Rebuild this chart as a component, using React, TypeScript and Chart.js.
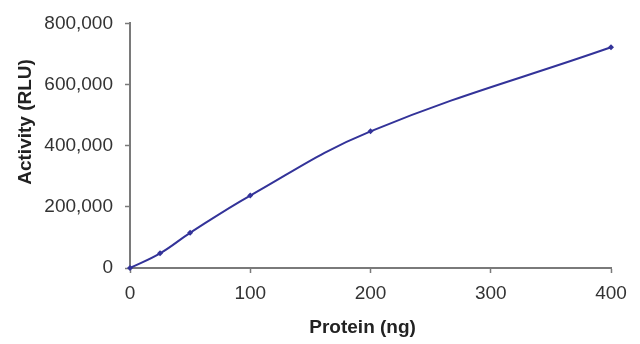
import React, { useEffect, useRef } from "react";
import { Chart, registerables } from "chart.js";

Chart.register(...registerables);

const proteinNg = [0, 25, 50, 100, 200, 400];
const activityRlu = [0, 48000, 115000, 237000, 447000, 722000];
const xTickValues = [0, 100, 200, 300, 400];
const yTickValues = [0, 200000, 400000, 600000, 800000];

const xTitle = "Protein (ng)   ";
const yTitle = "         Activity (RLU)";

const FONT = "'Liberation Sans', Arial, Helvetica, sans-serif";
const LINE_COLOR = "#333399";
const AXIS_COLOR = "#7a7a7a";
const TEXT_COLOR = "#333333";

export default function App() {
  const canvasRef = useRef<HTMLCanvasElement | null>(null);

  useEffect(() => {
    const canvas = canvasRef.current;
    if (!canvas) return;
    const chart = new Chart(canvas, {
      type: "line",
      data: {
        datasets: [
          {
            label: "Activity",
            data: proteinNg.map((x, i) => ({ x, y: activityRlu[i] })),
            borderColor: LINE_COLOR,
            backgroundColor: LINE_COLOR,
            borderWidth: 2,
            pointStyle: "rectRot",
            pointRadius: 3,
            pointBorderWidth: 0,
            pointBackgroundColor: LINE_COLOR,
            tension: 0.4,
            fill: false,
            clip: false as any,
          },
        ],
      },
      options: {
        animation: false,
        responsive: false,
        maintainAspectRatio: false,
        layout: { padding: { top: 21, right: 29, left: 0, bottom: 0 } },
        plugins: {
          legend: { display: false },
          tooltip: { enabled: false },
          title: { display: false },
        },
        scales: {
          x: {
            type: "linear",
            min: 0,
            max: 400,
            afterBuildTicks: (scale: any) => {
              scale.ticks = xTickValues.map((v) => ({ value: v }));
            },
            afterFit: (scale: any) => {
              scale.height = 76;
            },
            ticks: {
              color: TEXT_COLOR,
              font: { family: FONT, size: 19 },
              padding: 9,
              maxRotation: 0,
            },
            grid: {
              display: true,
              drawOnChartArea: false,
              drawTicks: true,
              tickLength: 5,
              tickColor: AXIS_COLOR,
              tickWidth: 1.5,
            },
            border: { display: true, color: AXIS_COLOR, width: 2 },
            title: {
              display: true,
              text: xTitle,
              color: "#222222",
              font: { family: FONT, size: 19, weight: "bold" },
              padding: { top: 0, bottom: 5 },
            },
          },
          y: {
            type: "linear",
            min: 0,
            max: 800000,
            afterBuildTicks: (scale: any) => {
              scale.ticks = yTickValues.map((v) => ({ value: v }));
            },
            afterFit: (scale: any) => {
              scale.width = 130;
            },
            ticks: {
              color: TEXT_COLOR,
              font: { family: FONT, size: 19 },
              padding: 12,
              callback: (v: any) => Number(v).toLocaleString("en-US"),
            },
            grid: {
              display: true,
              drawOnChartArea: false,
              drawTicks: true,
              tickLength: 5,
              tickColor: AXIS_COLOR,
              tickWidth: 1.5,
            },
            border: { display: true, color: AXIS_COLOR, width: 2 },
            title: {
              display: true,
              text: yTitle,
              color: "#222222",
              font: { family: FONT, size: 19, weight: "bold" },
              padding: { top: 14, bottom: 0 },
            },
          },
        },
      },
    });
    return () => chart.destroy();
  }, []);

  return (
    <div style={{ position: "fixed", left: 0, top: 0, width: 640, height: 344, background: "#ffffff" }}>
      <canvas ref={canvasRef} width={640} height={344} style={{ width: 640, height: 344, display: "block" }} />
    </div>
  );
}
